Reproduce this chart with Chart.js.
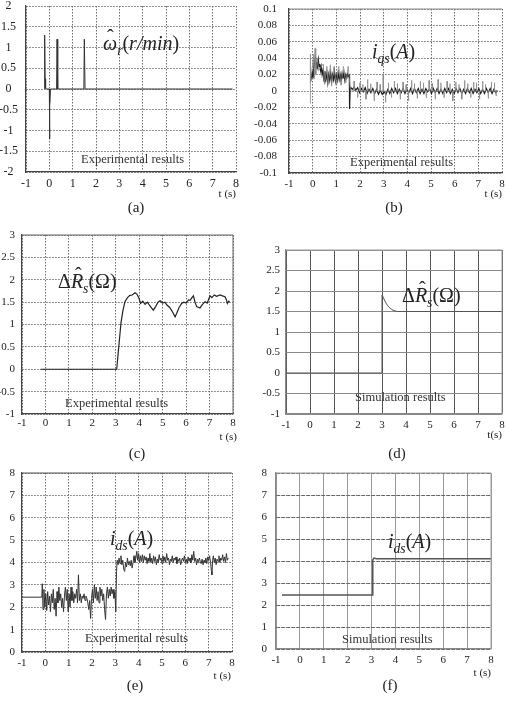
<!DOCTYPE html>
<html>
<head>
<meta charset="utf-8">
<script src="https://cdn.jsdelivr.net/npm/chart.js@4.4.0/dist/chart.umd.min.js"></script>
<style>
  html, body { margin: 0; padding: 0; background: #fff; overflow: hidden; }
  #page { position: relative; width: 507px; height: 702px; overflow: hidden; font-family: "Liberation Serif", "DejaVu Serif", serif; color: #222; }
  canvas { position: absolute; }
  .txt { position: absolute; white-space: nowrap; line-height: 1; }
  .formula { font-size: 20px; }
  .formula sub { font-size: 0.68em; vertical-align: -0.35em; line-height: 0; }
  .hat { position: relative; display: inline-block; }
  .hat::after { content: "\02C6"; position: absolute; left: 0.2em; top: -0.28em; font-style: normal; }
  .note { font-size: 12.5px; color: #333; }
  .tl { font-size: 11px; text-align: right; }
  .cap { font-size: 15px; text-align: center; width: 40px; }
</style>
</head>
<body>
<div id="page">
  <canvas id="chartA"></canvas>
  <canvas id="chartB"></canvas>
  <canvas id="chartC"></canvas>
  <canvas id="chartD"></canvas>
  <canvas id="chartE"></canvas>
  <canvas id="chartF"></canvas>
</div>
<script>
// (a) estimated speed, spikes only
const aTime = [-0.2, -0.2, -0.18, -0.16, -0.14, 0.0, 0.01, 0.02, 0.05, 0.31, 0.33, 0.36, 1.48, 1.5, 1.53, 7.85];
const aSpeed = [0, 1.3, 0.25, 0.02, 0, 0, -1.2, -0.35, 0, 0, 1.2, 0, 0, 1.2, 0, 0];

// (b) i_qs, dark trace and lighter spikes
const bTime = [-0.08, -0.05, -0.02, 0.0, 0.03, 0.06, 0.09, 0.12, 0.15, 0.18, 0.21, 0.24, 0.27, 0.3, 0.33, 0.36, 0.4, 0.44, 0.48, 0.52,
  0.56, 0.6, 0.64, 0.68, 0.72, 0.76, 0.8, 0.84, 0.88, 0.92, 0.96, 1.0, 1.04, 1.08, 1.12, 1.16, 1.2, 1.24, 1.28, 1.32,
  1.36, 1.4, 1.44, 1.48, 1.52, 1.55, 1.56, 1.58, 1.62, 1.68, 1.75, 1.82, 1.9, 1.98, 2.06, 2.14, 2.22, 2.3, 2.38, 2.46,
  2.54, 2.62, 2.7, 2.78, 2.86, 2.94, 3.02, 3.1, 3.18, 3.26, 3.34, 3.42, 3.5, 3.58, 3.66, 3.74, 3.82, 3.9, 3.98, 4.06,
  4.14, 4.22, 4.3, 4.38, 4.46, 4.54, 4.62, 4.7, 4.78, 4.86, 4.94, 5.02, 5.1, 5.18, 5.26, 5.34, 5.42, 5.5, 5.58, 5.66,
  5.74, 5.82, 5.9, 5.98, 6.06, 6.14, 6.22, 6.3, 6.38, 6.46, 6.54, 6.62, 6.7, 6.78, 6.86, 6.94, 7.02, 7.1, 7.18, 7.26,
  7.34, 7.42, 7.5, 7.58, 7.66, 7.74, 7.8];
const bCurrent = [0.012, 0.02, 0.017, 0.025, 0.02, 0.035, 0.03, 0.042, 0.028, 0.035, 0.03, 0.038, 0.03, 0.033, 0.025, 0.03, 0.02, 0.026, 0.012, 0.024,
  0.014, 0.022, 0.01, 0.02, 0.013, 0.022, 0.012, 0.02, 0.014, 0.024, 0.012, 0.019, 0.013, 0.022, 0.014, 0.02, 0.012, 0.021, 0.015, 0.022,
  0.013, 0.02, 0.016, 0.021, 0.018, 0.019, -0.022, 0.0, 0.004, 0.002, 0.005, 0.001, 0.004, -0.002, 0.003, -0.001, 0.004, -0.003, 0.002, -0.002,
  0.003, -0.003, 0.002, -0.004, 0.001, -0.004, -0.001, -0.004, 0.002, -0.003, 0.003, -0.002, 0.003, -0.003, 0.002, -0.002, 0.003, -0.003, 0.002, -0.002,
  0.003, -0.003, 0.003, -0.002, 0.003, -0.003, 0.002, -0.003, 0.003, -0.001, 0.003, -0.003, 0.003, -0.002, 0.003, -0.003, 0.002, -0.003, 0.003, -0.002,
  0.003, -0.003, 0.002, -0.003, 0.003, -0.002, 0.003, -0.003, 0.002, -0.003, 0.003, -0.002, 0.003, -0.003, 0.002, -0.002, 0.003, -0.003, 0.002, -0.003,
  0.003, -0.002, 0.003, -0.003, 0.002, -0.002, 0.001];
const bSpikeTime = [-0.1, -0.1, -0.09, 0.05, 0.07, 0.1, 0.13, 0.2, 0.25, 0.45, 0.5, 0.6, 0.65, 0.75, 0.8, 0.9, 1.0, 1.1, 1.2, 1.3,
  1.4, 1.5, 1.55, 1.6,
  1.74, 1.75, 1.76, 1.89, 1.9, 1.91, 1.99, 2.0, 2.01, 2.11, 2.12, 2.13, 2.24, 2.25, 2.26, 2.31, 2.32, 2.33,
  2.44, 2.45, 2.46, 2.59, 2.6, 2.61, 2.71, 2.72, 2.73, 2.84, 2.85, 2.86, 2.97, 2.98, 2.99, 3.07, 3.08, 3.09,
  3.19, 3.2, 3.21, 3.32, 3.33, 3.34, 3.44, 3.45, 3.46, 3.57, 3.58, 3.59, 3.69, 3.7, 3.71, 3.81, 3.82, 3.83,
  3.94, 3.95, 3.96, 4.04, 4.05, 4.06, 4.17, 4.18, 4.19, 4.29, 4.3, 4.31, 4.41, 4.42, 4.43, 4.54, 4.55, 4.56,
  4.67, 4.68, 4.69, 4.79, 4.8, 4.81, 4.91, 4.92, 4.93, 5.04, 5.05, 5.06, 5.17, 5.18, 5.19, 5.29, 5.3, 5.31,
  5.41, 5.42, 5.43, 5.54, 5.55, 5.56, 5.67, 5.68, 5.69, 5.79, 5.8, 5.81, 5.91, 5.92, 5.93, 6.04, 6.05, 6.06,
  6.17, 6.18, 6.19, 6.29, 6.3, 6.31, 6.41, 6.42, 6.43, 6.54, 6.55, 6.56, 6.67, 6.68, 6.69, 6.79, 6.8, 6.81,
  6.91, 6.92, 6.93, 7.04, 7.05, 7.06, 7.17, 7.18, 7.19, 7.29, 7.3, 7.31, 7.41, 7.42, 7.43, 7.54, 7.55, 7.56,
  7.67, 7.68, 7.69, 7.74, 7.75, 7.76];
const bSpikeCurrent = [-0.015, 0.045, 0.01, 0.045, 0.015, 0.052, 0.02, 0.04, 0.025, 0.033, 0.008, 0.03, 0.008, 0.032, 0.006, 0.03, 0.008, 0.03, 0.007, 0.03,
  0.01, 0.03, 0.015, 0.0,
  0.0, 0.012, 0.0, 0.0, -0.008, 0.0, 0.0, 0.01, 0.0, 0.0, 0.008, 0.0, 0.0, -0.01, 0.0, 0.0, 0.014, 0.0,
  0.0, 0.009, 0.0, 0.0, -0.012, 0.0, 0.0, 0.011, 0.0, 0.0, 0.008, 0.0, 0.0, 0.02, 0.0, 0.0, -0.014, 0.0,
  0.0, 0.01, 0.0, 0.0, -0.008, 0.0, 0.0, 0.012, 0.0, 0.0, 0.009, 0.0, 0.0, -0.01, 0.0, 0.0, 0.011, 0.0,
  0.0, 0.008, 0.0, 0.0, -0.012, 0.0, 0.0, 0.013, 0.0, 0.0, 0.009, 0.0, 0.0, -0.009, 0.0, 0.0, 0.012, 0.0,
  0.0, 0.01, 0.0, 0.0, -0.008, 0.0, 0.0, 0.013, 0.0, 0.0, 0.009, 0.0, 0.0, -0.01, 0.0, 0.0, 0.014, 0.0,
  0.0, 0.01, 0.0, 0.0, -0.008, 0.0, 0.0, 0.012, 0.0, 0.0, 0.009, 0.0, 0.0, -0.012, 0.0, 0.0, 0.011, 0.0,
  0.0, 0.008, 0.0, 0.0, -0.01, 0.0, 0.0, 0.013, 0.0, 0.0, 0.009, 0.0, 0.0, -0.008, 0.0, 0.0, 0.011, 0.0,
  0.0, 0.01, 0.0, 0.0, -0.01, 0.0, 0.0, 0.012, 0.0, 0.0, 0.008, 0.0, 0.0, -0.009, 0.0, 0.0, 0.011, 0.0,
  0.0, 0.01, 0.0, 0.0, -0.006, 0.0];

// (c) experimental resistance estimate
const cTime = [-0.2, 3.04, 3.1, 3.18, 3.22, 3.3, 3.39, 3.5, 3.6, 3.7, 3.82, 3.9, 3.98, 4.06, 4.15, 4.25, 4.35, 4.45, 4.6, 4.7,
  4.8, 4.89, 5.0, 5.1, 5.17, 5.3, 5.4, 5.53, 5.6, 5.7, 5.81, 5.9, 6.0, 6.1, 6.17, 6.25, 6.31, 6.38, 6.45, 6.59,
  6.7, 6.81, 6.9, 7.02, 7.1, 7.2, 7.3, 7.45, 7.55, 7.66, 7.72, 7.76, 7.82, 7.86];
const cResist = [0, 0, 0.35, 0.8, 1.03, 1.3, 1.51, 1.6, 1.65, 1.66, 1.71, 1.68, 1.6, 1.47, 1.52, 1.45, 1.5, 1.42, 1.32, 1.4,
  1.5, 1.53, 1.48, 1.5, 1.44, 1.38, 1.3, 1.17, 1.25, 1.38, 1.47, 1.5, 1.48, 1.55, 1.54, 1.6, 1.64, 1.5, 1.4, 1.37,
  1.45, 1.51, 1.48, 1.64, 1.6, 1.66, 1.63, 1.66, 1.64, 1.62, 1.55, 1.47, 1.52, 1.5];

// (d) simulated resistance estimate
const dTime = [-1, 3.0, 3.0, 3.05, 3.1, 3.2, 3.3, 3.4, 3.5, 3.65, 3.8, 8];
const dResist = [0, 0, 1.9, 1.85, 1.78, 1.67, 1.6, 1.55, 1.52, 1.5, 1.5, 1.5];

// (e) experimental i_ds
const eTime = [-1, -0.15, -0.13, -0.1, -0.06, -0.02, 0.02, 0.06, 0.1, 0.14, 0.18, 0.22, 0.26, 0.3, 0.34, 0.38, 0.42, 0.46, 0.5, 0.54,
  0.58, 0.62, 0.66, 0.7, 0.74, 0.78, 0.82, 0.86, 0.9, 0.94, 0.98, 1.02, 1.06, 1.1, 1.14, 1.18, 1.22, 1.26, 1.3, 1.34,
  1.38, 1.42, 1.46, 1.5, 1.54, 1.58, 1.62, 1.66, 1.7, 1.74, 1.78, 1.82, 1.86, 1.9, 1.94, 1.98, 2.02, 2.06, 2.1, 2.14,
  2.18, 2.22, 2.26, 2.3, 2.34, 2.38, 2.42, 2.46, 2.5, 2.54, 2.58, 2.62, 2.66, 2.7, 2.74, 2.78, 2.82, 2.86, 2.9, 2.94,
  2.98, 3.02, 3.05, 3.08, 3.12, 3.16, 3.2, 3.24, 3.28, 3.32, 3.36, 3.4, 3.44, 3.48, 3.52, 3.56, 3.6, 3.64, 3.68, 3.72,
  3.76, 3.8, 3.84, 3.88, 3.92, 3.96, 4.0, 4.04, 4.08, 4.12, 4.16, 4.2, 4.24, 4.28, 4.32, 4.36, 4.4, 4.44, 4.48, 4.52,
  4.56, 4.6, 4.64, 4.68, 4.72, 4.76, 4.8, 4.84, 4.88, 4.92, 4.96, 5.0, 5.04, 5.08, 5.12, 5.16, 5.2, 5.24, 5.28, 5.32,
  5.36, 5.4, 5.44, 5.48, 5.52, 5.56, 5.6, 5.64, 5.68, 5.72, 5.76, 5.8, 5.84, 5.88, 5.92, 5.96, 6.0, 6.04, 6.08, 6.12,
  6.16, 6.2, 6.24, 6.28, 6.32, 6.36, 6.4, 6.44, 6.48, 6.52, 6.56, 6.6, 6.64, 6.68, 6.72, 6.76, 6.8, 6.84, 6.88, 6.92,
  6.96, 7.0, 7.04, 7.08, 7.12, 7.14, 7.17, 7.2, 7.24, 7.28, 7.32, 7.36, 7.4, 7.44, 7.48, 7.52, 7.56, 7.6, 7.64, 7.68,
  7.72, 7.76, 7.8, 7.84];
const eCurrent = [2.45, 2.45, 3.05, 1.9, 2.8, 2.0, 2.6, 1.85, 2.7, 2.1, 2.5, 1.8, 2.6, 2.2, 2.8, 1.9, 2.4, 1.6, 2.7, 2.2,
  2.9, 2.3, 2.6, 2.0, 2.4, 1.8, 2.5, 2.9, 2.3, 2.8, 1.8, 2.6, 2.0, 2.9, 2.3, 2.7, 2.2, 2.6, 2.4, 2.8,
  2.2, 3.45, 2.3, 2.6, 2.2, 2.5, 2.4, 2.6, 2.3, 2.5, 2.4, 2.2, 1.9, 2.3, 1.5, 2.4, 2.8, 2.2, 3.0, 2.4,
  2.9, 2.3, 2.7, 2.2, 2.9, 2.5, 2.8, 2.3, 2.6, 1.9, 1.45, 2.6, 2.9, 2.4, 2.8, 2.5, 2.9, 2.6, 2.8, 2.4,
  2.7, 1.8, 3.6, 4.1, 3.9, 4.2, 3.95, 4.3, 3.9, 4.1, 3.7, 3.6, 4.0, 3.8, 4.2, 3.9, 4.05, 3.85, 4.1, 3.75,
  4.0, 4.3, 4.0, 4.2, 4.5, 4.1, 4.4, 4.0, 4.3, 4.05, 4.35, 4.0, 4.3, 4.1, 4.25, 3.95, 4.2, 4.05, 4.4, 4.0,
  4.2, 3.95, 4.3, 4.05, 4.25, 3.9, 4.15, 4.0, 4.35, 4.1, 4.2, 3.95, 4.3, 4.05, 4.25, 4.0, 4.4, 4.1, 4.2, 3.9,
  4.15, 4.05, 4.3, 4.0, 4.2, 4.1, 4.25, 3.95, 4.15, 4.05, 4.2, 3.9, 4.1, 4.2, 4.05, 4.3, 4.0, 4.15, 3.95, 4.25,
  4.05, 4.2, 4.0, 4.35, 4.1, 4.5, 4.05, 4.2, 3.9, 4.15, 4.0, 4.2, 4.05, 3.95, 4.15, 3.9, 4.1, 4.0, 4.2, 3.95,
  4.25, 4.1, 4.3, 4.0, 3.6, 3.45, 4.1, 4.3, 4.0, 4.2, 3.9, 4.15, 4.05, 4.3, 4.0, 4.2, 4.1, 4.35, 4.05, 4.25,
  4.0, 4.4, 4.1, 4.2];

// (f) simulated i_ds
const fTime = [-0.75, 3.02, 3.05, 3.1, 3.2, 8];
const fCurrent = [2.45, 2.45, 4.05, 4.13, 4.1, 4.1];

const xTicks = [-1, 0, 1, 2, 3, 4, 5, 6, 7, 8];

function pts(xs, ys) {
  return xs.map((x, i) => ({ x: x, y: ys[i] }));
}

const framePlugin = {
  id: 'frame',
  afterDatasetsDraw(chart, args, opts) {
    const a = chart.chartArea;
    const ctx = chart.ctx;
    ctx.save();
    ctx.strokeStyle = opts.color || '#555';
    ctx.lineWidth = opts.width || 1;
    ctx.beginPath();
    if (opts.top) { ctx.moveTo(a.left, a.top); ctx.lineTo(a.right, a.top); }
    if (opts.right) { ctx.moveTo(a.right, a.top); ctx.lineTo(a.right, a.bottom); }
    ctx.stroke();
    ctx.restore();
  }
};

const Y_W = 40, PAD_T = 8, PAD_R = 6, X_H = 24;

function makePanel(id, p) {
  const cv = document.getElementById(id);
  const left = p.L - Y_W, top = p.T - PAD_T;
  const w = p.R - p.L + Y_W + PAD_R, h = p.B - p.T + PAD_T + X_H;
  cv.width = w; cv.height = h;
  cv.style.left = left + 'px'; cv.style.top = top + 'px';
  cv.style.width = w + 'px'; cv.style.height = h + 'px';

  const font = { family: '"Liberation Serif", "DejaVu Serif", serif', size: p.fontSize || 11 };
  new Chart(cv, {
    type: 'line',
    data: { datasets: p.datasets },
    plugins: [framePlugin],
    options: {
      responsive: false,
      animation: false,
      devicePixelRatio: 1,
      layout: { padding: { left: 0, right: PAD_R, top: PAD_T, bottom: 0 } },
      plugins: {
        legend: { display: false },
        tooltip: { enabled: false },
        frame: p.frame
      },
      elements: { point: { radius: 0 }, line: { tension: 0 } },
      scales: {
        x: {
          type: 'linear', min: -1, max: 8,
          afterBuildTicks: s => { s.ticks = xTicks.map(v => ({ value: v })); },
          afterFit: s => { s.height = X_H; s.paddingLeft = 0; s.paddingRight = 0; },
          ticks: { font: font, color: '#222', padding: p.xPad, maxRotation: 0, autoSkip: false,
                   callback: v => String(v) },
          grid: Object.assign({ drawTicks: false, tickLength: 0 }, p.xGrid),
          border: Object.assign({ display: true, color: '#444', width: 1.2 }, p.xBorder)
        },
        y: {
          type: 'linear', min: p.ymin, max: p.ymax,
          afterBuildTicks: s => { s.ticks = p.yTicks.map(v => ({ value: v })); },
          afterFit: s => { s.width = Y_W; s.paddingTop = 0; s.paddingBottom = 0; },
          ticks: { font: font, color: '#222', padding: p.yPad, crossAlign: p.yAlign || 'near',
                   callback: v => String(Math.round(v * 1000) / 1000) },
          grid: Object.assign({ drawTicks: false, tickLength: 0 }, p.yGrid),
          border: Object.assign({ display: true, color: '#444', width: 1.2 }, p.yBorder)
        }
      }
    }
  });
}

const dotted = { color: '#6e6e6e', lineWidth: 1 };
const dotDash = { dash: [1.5, 1.5] };

makePanel('chartA', {
  L: 26, R: 236, T: 6, B: 172, ymin: -2, ymax: 2, fontSize: 12,
  yTicks: [-2, -1.5, -1, -0.5, 0, 0.5, 1, 1.5, 2], yPad: 8, yAlign: 'center', xPad: 5,
  xGrid: dotted, yGrid: dotted, xBorder: dotDash, yBorder: dotDash,
  frame: {},
  datasets: [{ data: pts(aTime, aSpeed), borderColor: '#333', borderWidth: 1 }]
});

makePanel('chartB', {
  L: 289, R: 502, T: 9, B: 173, ymin: -0.1, ymax: 0.1,
  yTicks: [-0.1, -0.08, -0.06, -0.04, -0.02, 0, 0.02, 0.04, 0.06, 0.08, 0.1], yPad: 12, xPad: 5,
  xGrid: dotted, yGrid: dotted, xBorder: dotDash, yBorder: dotDash,
  frame: { top: true, color: '#888', width: 1 },
  datasets: [
    { data: pts(bSpikeTime, bSpikeCurrent), borderColor: '#8a8a8a', borderWidth: 0.8 },
    { data: pts(bTime, bCurrent), borderColor: '#1a1a1a', borderWidth: 1.2 }
  ]
});

makePanel('chartC', {
  L: 22, R: 233, T: 235, B: 414, ymin: -1, ymax: 3,
  yTicks: [-1, -0.5, 0, 0.5, 1, 1.5, 2, 2.5, 3], yPad: 7, xPad: 3,
  xGrid: dotted, yGrid: dotted, xBorder: dotDash, yBorder: dotDash,
  frame: { top: true, right: true, color: '#666', width: 1 },
  datasets: [{ data: pts(cTime, cResist), borderColor: '#222', borderWidth: 1.2 }]
});

makePanel('chartD', {
  L: 286, R: 502, T: 250, B: 414, ymin: -1, ymax: 3,
  yTicks: [-1, -0.5, 0, 0.5, 1, 1.5, 2, 2.5, 3], yPad: 6, xPad: 5,
  xGrid: { color: '#555', lineWidth: 1 }, yGrid: { color: '#8a8a8a', lineWidth: 1 },
  xBorder: { color: '#888' }, yBorder: { color: '#888' },
  frame: { top: true, right: true, color: '#999', width: 1 },
  datasets: [{ data: pts(dTime, dResist), borderColor: '#555', borderWidth: 1 }]
});

makePanel('chartE', {
  L: 22, R: 232, T: 473, B: 652, ymin: 0, ymax: 8,
  yTicks: [0, 1, 2, 3, 4, 5, 6, 7, 8], yPad: 7, xPad: 5,
  xGrid: dotted, yGrid: dotted, xBorder: dotDash, yBorder: dotDash,
  frame: { top: true, color: '#555', width: 1 },
  datasets: [{ data: pts(eTime, eCurrent), borderColor: '#333', borderWidth: 1 }]
});

makePanel('chartF', {
  L: 276, R: 491, T: 473, B: 649, ymin: 0, ymax: 8,
  yTicks: [0, 1, 2, 3, 4, 5, 6, 7, 8], yPad: 9, xPad: 5,
  xGrid: { color: '#999', lineWidth: 1 }, yGrid: { color: '#666', lineWidth: 1 },
  xBorder: { color: '#888' }, yBorder: { color: '#888', dash: [4, 1] },
  frame: { top: true, right: true, color: '#999', width: 1 },
  datasets: [{ data: pts(fTime, fCurrent), borderColor: '#555', borderWidth: 1.5 }]
});

// text overlays
const page = document.getElementById('page');
function addText(cls, html, style) {
  const d = document.createElement('div');
  d.className = 'txt ' + cls;
  d.innerHTML = html;
  Object.assign(d.style, style);
  page.appendChild(d);
}

const formulaOmega = '<i class="hat">\u03C9</i><sub><i>r</i></sub>(<i>r/min</i>)';
const formulaIqs = '<i>i</i><sub><i>qs</i></sub>(<i>A</i>)';
const formulaRs = '\u0394<i class="hat">R</i><sub><i>s</i></sub>(\u03A9)';
const formulaIds = '<i>i</i><sub><i>ds</i></sub>(<i>A</i>)';

addText('formula', formulaOmega, { left: '103px', top: '33px' });
addText('formula', formulaIqs, { left: '372px', top: '41px' });
addText('formula', formulaRs, { left: '58px', top: '271px' });
addText('formula', formulaRs, { left: '402px', top: '285px' });
addText('formula', formulaIds, { left: '110px', top: '528px' });
addText('formula', formulaIds, { left: '388px', top: '531px' });

addText('note', 'Experimental results', { left: '81px', top: '153px' });
addText('note', 'Experimental results', { left: '350px', top: '156px' });
addText('note', 'Experimental results', { left: '65px', top: '397px' });
addText('note', 'Simulation results', { left: '355px', top: '391px' });
addText('note', 'Experimental results', { left: '85px', top: '632px' });
addText('note', 'Simulation results', { left: '342px', top: '633px' });

addText('tl', 't (s)', { right: (507 - 236) + 'px', top: '188px' });
addText('tl', 't (s)', { right: (507 - 502) + 'px', top: '188px' });
addText('tl', 't (s)', { right: (507 - 237) + 'px', top: '431px' });
addText('tl', 't(s)', { right: (507 - 502) + 'px', top: '429px' });
addText('tl', 't (s)', { right: (507 - 231) + 'px', top: '670px' });
addText('tl', 't (s)', { right: (507 - 491) + 'px', top: '667px' });

addText('cap', '(a)', { left: (136 - 20) + 'px', top: '200px' });
addText('cap', '(b)', { left: (394 - 20) + 'px', top: '200px' });
addText('cap', '(c)', { left: (137 - 20) + 'px', top: '446px' });
addText('cap', '(d)', { left: (397 - 20) + 'px', top: '446px' });
addText('cap', '(e)', { left: (135 - 20) + 'px', top: '678px' });
addText('cap', '(f)', { left: (390 - 20) + 'px', top: '678px' });
</script>
</body>
</html>
